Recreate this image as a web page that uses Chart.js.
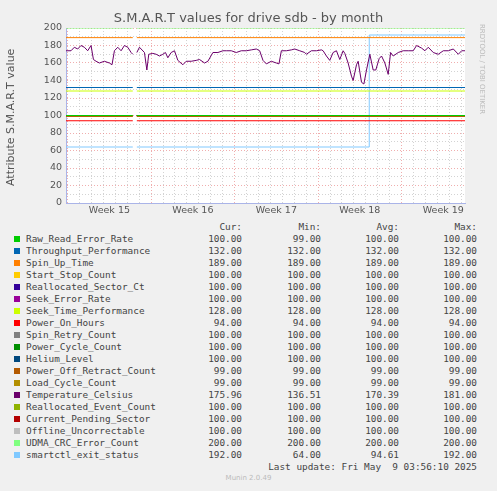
<!DOCTYPE html>
<html><head><meta charset="utf-8">
<script src="https://cdn.jsdelivr.net/npm/chart.js@4/dist/chart.umd.min.js"></script>
<style>
body{margin:0;background:#f0f0f0;width:497px;height:491px;position:relative;overflow:hidden;font-family:"DejaVu Sans",sans-serif}
#wrap{position:absolute;left:0;top:0;width:497px;height:220px}
#title{position:absolute;top:10px;left:0;width:497px;text-align:center;font-size:13px;color:#555}
#ytitle{position:absolute;left:4px;top:186px;transform:rotate(-90deg);transform-origin:0 0;font-size:11px;color:#555;white-space:nowrap}
#rrd{position:absolute;left:486px;top:24px;transform:rotate(90deg);transform-origin:0 0;font-size:7px;color:#bbb;white-space:nowrap}
#leg{position:absolute;left:0;top:221px;font-family:"DejaVu Sans Mono",monospace;font-size:9.4px;color:#444;line-height:12px}
.r{position:relative;height:12px}
.r span{position:absolute;white-space:pre}
.sq{width:6px;height:6px;left:14px;top:3px}
#foot{position:absolute;top:474px;width:497px;text-align:center;font-size:7px;color:#bbb}
</style></head><body>
<div id="wrap"><canvas id="c" width="497" height="220"></canvas></div>
<div id="title">S.M.A.R.T values for drive sdb - by month</div>
<div id="ytitle">Attribute S.M.A.R.T value</div>
<div id="rrd">RRDTOOL / TOBI OETIKER</div>
<div id="leg"></div>
<div id="foot">Munin 2.0.49</div>
<script>
const names=["Raw_Read_Error_Rate","Throughput_Performance","Spin_Up_Time","Start_Stop_Count","Reallocated_Sector_Ct","Seek_Error_Rate","Seek_Time_Performance","Power_On_Hours","Spin_Retry_Count","Power_Cycle_Count","Helium_Level","Power_Off_Retract_Count","Load_Cycle_Count","Temperature_Celsius","Reallocated_Event_Count","Current_Pending_Sector","Offline_Uncorrectable","UDMA_CRC_Error_Count","smartctl_exit_status"];
const colors=["#00CC00","#0066B3","#FF8000","#FFCC00","#330099","#990099","#CCFF00","#FF0000","#808080","#008F00","#00487D","#B35A00","#B38F00","#6B006B","#8FB300","#B30000","#BEBEBE","#80FF80","#80C9FF"];
const curV=[100,132,189,100,100,100,128,94,100,100,100,99,99,175.96,100,100,100,200,192];
const minV=[99,132,189,100,100,100,128,94,100,100,100,99,99,136.51,100,100,100,200,64];
const avgV=[100,132,189,100,100,100,128,94,100,100,100,99,99,170.39,100,100,100,200,94.61];
const maxV=[100,132,189,100,100,100,128,94,100,100,100,99,99,181,100,100,100,200,192];
const weekLabels=["Week 15","Week 16","Week 17","Week 18","Week 19"];
const yTicks=[0,20,40,60,80,100,120,140,160,180,200];
const xStart=-0.14, xEnd=33.32, gapStart=5.46, gapEnd=5.8;
const tempDays=[-0.14,0.28,0.56,0.84,1.12,1.4,1.68,1.96,2.16,2.38,2.66,3.08,3.5,3.72,3.92,4.2,4.48,4.76,5.04,5.32,5.46,5.6,5.8,6.02,6.44,6.64,6.8,7.14,7.42,7.7,7.98,8.2,8.4,8.68,8.96,9.24,9.66,9.94,10.36,10.78,11.06,11.48,11.76,12.18,12.6,13.02,13.3,13.72,14.14,14.56,14.98,15.4,15.82,16.1,16.38,16.66,17.08,17.5,17.72,17.92,18.34,18.76,19.04,19.46,19.88,20.02,20.44,20.86,21.28,21.42,21.7,21.98,22.26,22.54,22.82,23.1,23.24,23.52,23.8,23.94,24.22,24.36,24.64,24.84,25.06,25.34,25.62,25.84,26.12,26.32,26.6,26.88,27.08,27.3,27.72,28.14,28.56,28.98,29.26,29.68,29.96,30.24,30.66,31.08,31.5,31.92,32.34,32.76,33.04,33.32];
const tempVals=[174,174,178,176,180,178,174,180,164,162,160,162,160,158,174,178,174,180,178,172,170,null,172,178,172,152,170,171,170,168,170,172,166,172,174,163,158,162,162,163,164,160,162,172,172,174,174,174,172,174,174,175,176,174,163,159,162,160,159,174,174,175,176,174,172,170,174,174,175,174,168,163,172,174,164,174,171,160,145,140,158,162,138,136,152,170,152,152,165,168,160,147,172,168,172,174,174,174,180,177,174,178,172,170,174,174,176,170,174,174];
const smartDays=[-0.14,5.46,5.6,5.8,25.28,25.29,33.32];
const smartVals=[64,64,null,64,64,192,192];

function flat(v){return [{x:xStart,y:v},{x:gapStart,y:v},{x:5.6,y:null},{x:gapEnd,y:v},{x:xEnd,y:v}];}
const datasets=names.map((n,i)=>{
  let data;
  if(n==="Temperature_Celsius") data=tempDays.map((d,k)=>({x:d,y:tempVals[k]}));
  else if(n==="smartctl_exit_status") data=smartDays.map((d,k)=>({x:d,y:smartVals[k]}));
  else data=flat(curV[i]);
  return {label:n,data,borderColor:colors[i],borderWidth:1,pointRadius:0,spanGaps:false,tension:0};
});
const bg={id:'bg',beforeDraw(ch){const a=ch.chartArea,c=ch.ctx;c.save();c.fillStyle='#fff';c.fillRect(a.left,a.top,a.right-a.left,a.bottom-a.top);c.restore();}};
new Chart(document.getElementById('c'),{type:'line',data:{datasets},plugins:[bg],
options:{responsive:false,animation:false,
layout:{padding:{left:0,top:28,right:32,bottom:0}},
plugins:{legend:{display:false},tooltip:{enabled:false}},
scales:{
 x:{type:'linear',min:xStart,max:xEnd,
  afterFit(s){s.height=17;},
  afterBuildTicks(s){const t=[];for(let d=0;d<=33;d++)t.push({value:d});for(let k=0;k<5;k++)t.push({value:3.5+7*k});t.sort((a,b)=>a.value-b.value);s.ticks=t;},
  ticks:{autoSkip:false,maxRotation:0,font:{size:9.5,family:'DejaVu Sans'},color:'#555',padding:2,
   callback(v){const k=(v-3.5)/7;return Number.isInteger(k)&&k>=0&&k<5?weekLabels[k]:'';}},
  grid:{drawTicks:false,color(ctx){const v=ctx.tick?ctx.tick.value:0;if(Math.abs(v-3.5-7*Math.round((v-3.5)/7))<1e-6)return 'rgba(0,0,0,0)';return v%7===0?'rgba(230,120,120,0.6)':'rgba(200,200,200,0.8)';}},
  border:{color:'#aab4e8',dash:[1,2]}},
 y:{min:0,max:200,
  afterFit(s){s.width=66;},
  afterBuildTicks(s){const t=[];for(let v=0;v<=200;v+=10)t.push({value:v});s.ticks=t;},
  ticks:{autoSkip:false,font:{size:9.5,family:'DejaVu Sans'},color:'#555',padding:4,
   callback(v){return yTicks.includes(v)?String(v):'';}},
  grid:{drawTicks:false,color(ctx){const v=ctx.tick?ctx.tick.value:0;return v%20===0?'rgba(230,120,120,0.6)':'rgba(200,200,200,0.8)';}},
  border:{color:'#aab4e8',dash:[1,2]}}
}}});
const leg=document.getElementById('leg');
function f(v){return v.toFixed(2);}
let h='<div class="r"><span style="left:202px;width:40px;text-align:right">Cur:</span><span style="left:281px;width:40px;text-align:right">Min:</span><span style="left:359px;width:40px;text-align:right">Avg:</span><span style="left:437px;width:40px;text-align:right">Max:</span></div>';
names.forEach((n,i)=>{h+=`<div class="r"><span class="sq" style="background:${colors[i]}"></span><span style="left:26px">${n}</span><span style="left:182px;width:60px;text-align:right">${f(curV[i])}</span><span style="left:261px;width:60px;text-align:right">${f(minV[i])}</span><span style="left:339px;width:60px;text-align:right">${f(avgV[i])}</span><span style="left:417px;width:60px;text-align:right">${f(maxV[i])}</span></div>`;});
h+='<div class="r"><span style="left:200px;width:277px;text-align:right">Last update: Fri May  9 03:56:10 2025</span></div>';
leg.innerHTML=h;
</script>
</body></html>
